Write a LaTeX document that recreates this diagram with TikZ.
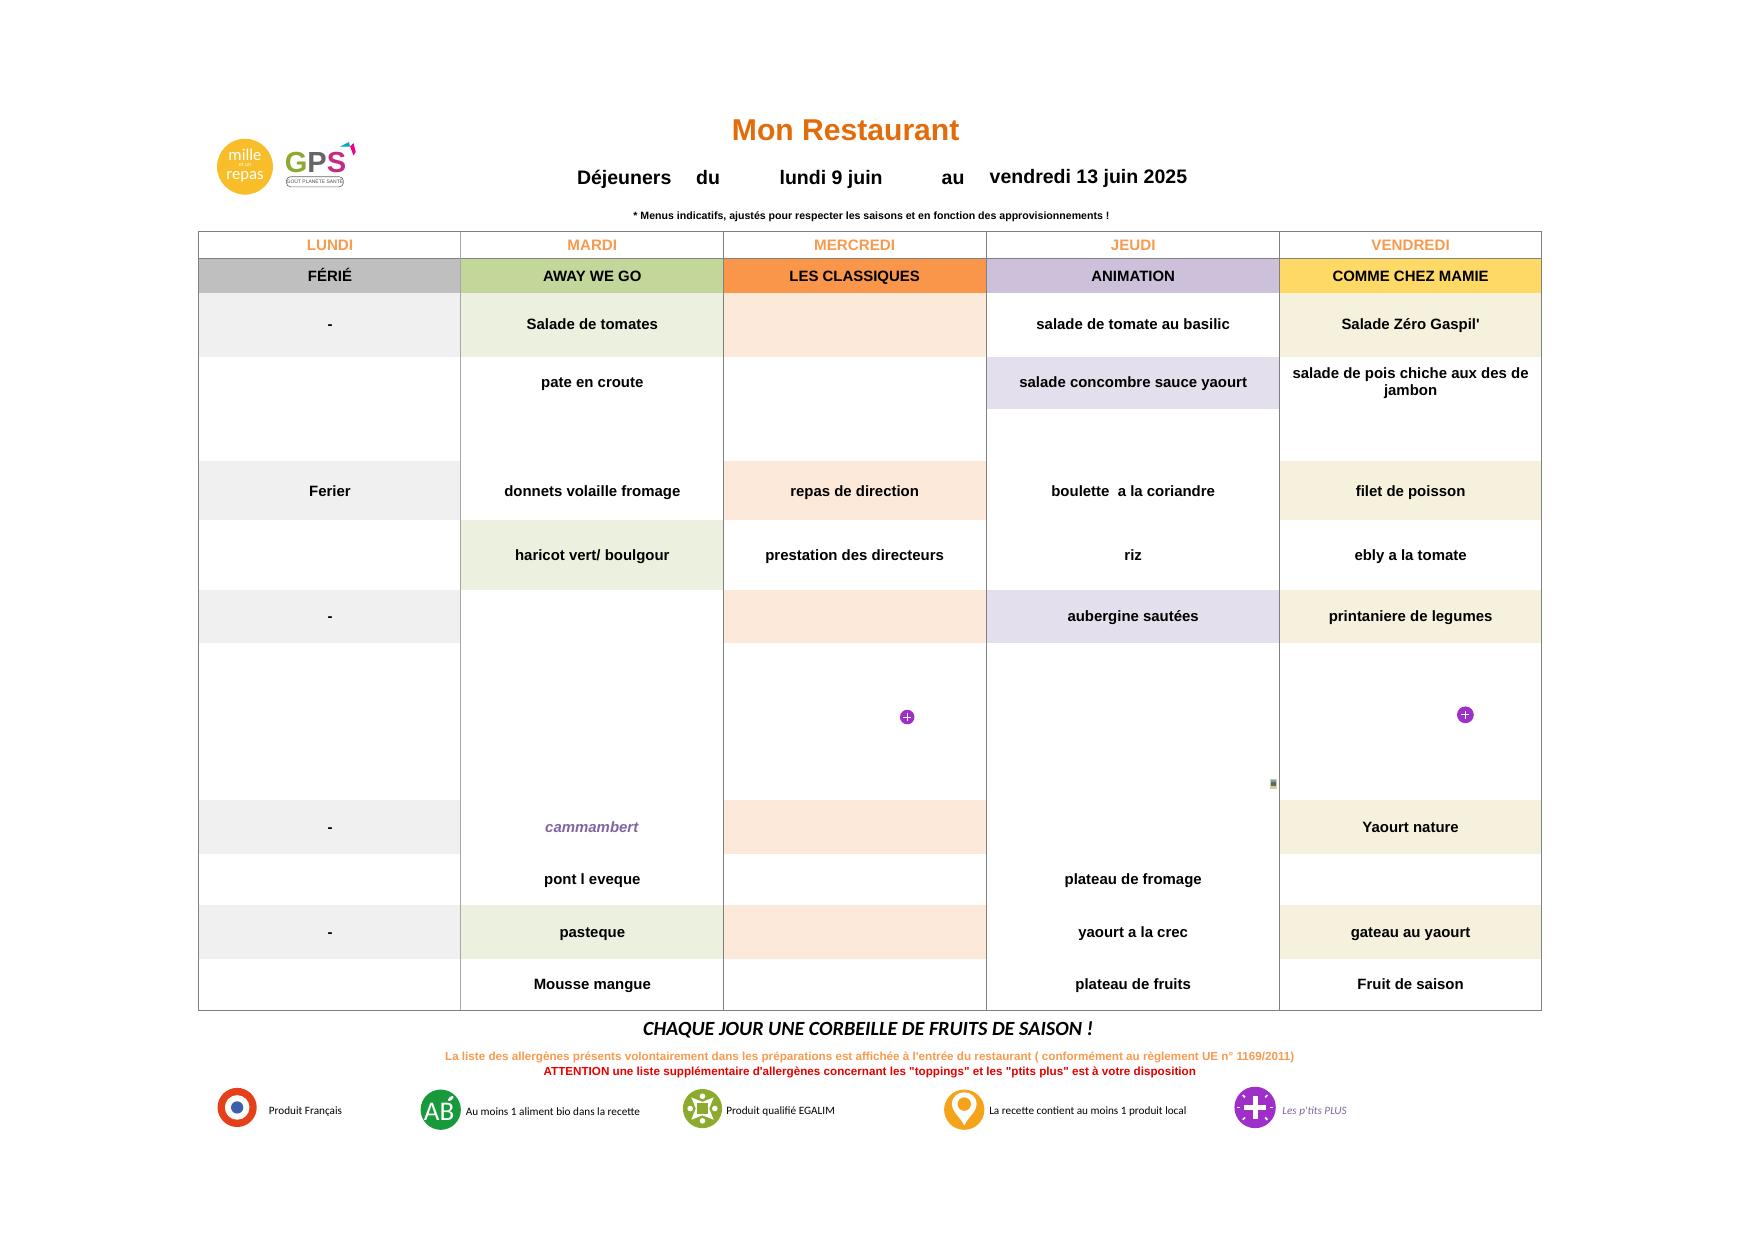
\documentclass[tikz,border=0pt]{standalone}
\usepackage{fontspec}
\setmainfont{Liberation Sans}[Ligatures=TeXOff]
\newfontfamily\carlito{Carlito}
\definecolor{daytext}{HTML}{F79A4E}
\definecolor{titletext}{HTML}{E26B0A}
\definecolor{rule}{HTML}{808080}
\definecolor{grayhead}{HTML}{BFBFBF}
\definecolor{greenhead}{HTML}{C4D79B}
\definecolor{orangehead}{HTML}{F9964A}
\definecolor{lilachead}{HTML}{CCC0DA}
\definecolor{yellowhead}{HTML}{FFD966}
\definecolor{graycell}{HTML}{F0F0F0}
\definecolor{greencell}{HTML}{EBF1DE}
\definecolor{peachcell}{HTML}{FDE9D9}
\definecolor{lilaccell}{HTML}{E4DFEC}
\definecolor{yellowcell}{HTML}{F5F1DC}
\definecolor{plusviolet}{HTML}{9E2FC8}
\definecolor{plustext}{HTML}{8064A2}
\definecolor{abgreen}{HTML}{189A3C}
\definecolor{egagreen}{HTML}{8CAB2E}
\definecolor{pinorange}{HTML}{F5A31B}
\definecolor{milleyellow}{HTML}{F7BE2A}
\definecolor{cocardered}{HTML}{E5401A}
\definecolor{cocardeblue}{HTML}{3E5FAE}
\begin{document}
\begin{tikzpicture}[x=0.018941cm,y=0.018941cm]
\tikzstyle{every node}+=[inner sep=0pt]
\tikzstyle{dayname}=[font=\fontsize{7.3}{9}\selectfont\bfseries, text=daytext, text height=1.45ex, text depth=0.25ex, yshift=0.5pt]
\tikzstyle{themename}=[font=\fontsize{7.2}{9}\selectfont\bfseries, text height=1.45ex, text depth=0.25ex, yshift=0.5pt]
\tikzstyle{dish}=[font=\fontsize{7.2}{8.4}\selectfont\bfseries, align=center, text height=1.45ex, text depth=0.25ex, yshift=0.5pt]
\tikzstyle{legendtext}=[font=\fontsize{5.4}{6.5}\selectfont\carlito, anchor=west]
\tikzstyle{subtitle}=[font=\fontsize{9.4}{11}\selectfont\bfseries, text height=1.45ex, text depth=0.25ex]
\useasboundingbox (0,0) rectangle (1568,-1108.5);
% band fills
\fill [grayhead] (177,-231) rectangle (412,-262);
\fill [greenhead] (412,-231) rectangle (647,-262);
\fill [orangehead] (647,-231) rectangle (882,-262);
\fill [lilachead] (882,-231) rectangle (1144,-262);
\fill [yellowhead] (1144,-231) rectangle (1378,-262);
\fill [graycell] (177,-262) rectangle (412,-319);
\fill [graycell] (177,-412) rectangle (412,-465);
\fill [graycell] (177,-527) rectangle (412,-575);
\fill [graycell] (177,-715) rectangle (412,-763);
\fill [graycell] (177,-809) rectangle (412,-857);
\fill [greencell] (412,-262) rectangle (647,-319);
\fill [greencell] (412,-465) rectangle (647,-527);
\fill [greencell] (412,-809) rectangle (647,-857);
\fill [peachcell] (647,-262) rectangle (882,-319);
\fill [peachcell] (647,-412) rectangle (882,-465);
\fill [peachcell] (647,-527) rectangle (882,-575);
\fill [peachcell] (647,-715) rectangle (882,-763);
\fill [peachcell] (647,-809) rectangle (882,-857);
\fill [lilaccell] (882,-319) rectangle (1144,-366);
\fill [lilaccell] (882,-527) rectangle (1144,-575);
\fill [yellowcell] (1144,-262) rectangle (1378,-319);
\fill [yellowcell] (1144,-412) rectangle (1378,-465);
\fill [yellowcell] (1144,-527) rectangle (1378,-575);
\fill [yellowcell] (1144,-715) rectangle (1378,-763);
\fill [yellowcell] (1144,-809) rectangle (1378,-857);
% table rules
\draw [rule, line width=0.4pt] (177,-207) rectangle (1378,-903);
\draw [rule, line width=0.4pt] (177,-231) -- (1378,-231);
\draw [rule!70, line width=0.4pt] (412,-207) -- (412,-903);
\draw [rule, line width=0.4pt] (647,-207) -- (647,-903);
\draw [rule, line width=0.4pt] (882,-207) -- (882,-903);
\draw [rule, line width=0.4pt] (1144,-207) -- (1144,-903);
% heading
\draw (756,-116.5) node (title) [font=\fontsize{14.5}{16}\selectfont\bfseries, text=titletext] {Mon Restaurant};
\draw (558,-159) node (dejeuners) [subtitle] {Déjeuners};
\draw (633,-159) node (du) [subtitle] {du};
\draw (743,-159) node (lundineuf) [subtitle] {lundi 9 juin};
\draw (852,-159) node (au) [subtitle] {au};
\draw (973,-158) node (vendredi13) [subtitle] {vendredi 13 juin 2025};
\draw (779,-193.5) node (indicatifs) [font=\fontsize{5.1}{6}\selectfont\bfseries] {* Menus indicatifs, ajustés pour respecter les saisons et en fonction des approvisionnements !};
% logos
\fill [milleyellow] (219,-149) circle (25);
\draw (219,-138.5) node (mille) [font=\fontsize{8}{8}\selectfont\carlito, text=white] {mille};
\draw (219,-147.5) node (etun) [font=\fontsize{2.8}{3}\selectfont\carlito, text=white] {et un};
\draw (219,-158) node (repas) [font=\fontsize{8}{8}\selectfont\carlito, text=white] {repas};
\draw (282,-145) node (gpsmark) [font=\fontsize{14}{14}\selectfont\bfseries] {\textcolor{egagreen}{G}\textcolor{black!60}{P}\textcolor{magenta!80!black}{S}};
\fill [cyan!70!green] (304,-131) -- (312,-127) -- (313,-131) -- cycle;
\fill [magenta] (313,-131) -- (316,-128) -- (318,-136) -- (316,-139) -- cycle;
\draw [black!60, line width=0.3pt, rounded corners=2] (256,-158) rectangle (307,-167);
\draw (281.5,-162.5) node (gpstag) [font=\fontsize{2.4}{3}\selectfont, text=black!70] {GOÛT PLANÈTE SANTÉ};
% day names
\draw (295,-219) node (lundi) [dayname] {LUNDI};
\draw (529.5,-219) node (mardi) [dayname] {MARDI};
\draw (764,-219) node (mercredi) [dayname] {MERCREDI};
\draw (1013,-219) node (jeudi) [dayname] {JEUDI};
\draw (1261,-219) node (vendredi) [dayname] {VENDREDI};
% themes
\draw (295,-246.5) node (ferie) [themename] {FÉRIÉ};
\draw (529.5,-246.5) node (awaywego) [themename] {AWAY WE GO};
\draw (764,-246.5) node (classiques) [themename] {LES CLASSIQUES};
\draw (1013,-246.5) node (animation) [themename] {ANIMATION};
\draw (1261,-246.5) node (mamie) [themename] {COMME CHEZ MAMIE};
% lundi
\draw (295,-290) node (lun1) [dish] {-};
\draw (295,-439) node (lun2) [dish] {Ferier};
\draw (295,-551) node (lun3) [dish] {-};
\draw (295,-739) node (lun4) [dish] {-};
\draw (295,-833) node (lun5) [dish] {-};
% mardi
\draw (529.5,-290) node (mar1) [dish] {Salade de tomates};
\draw (529.5,-341.5) node (mar2) [dish] {pate en croute};
\draw (529.5,-439) node (mar3) [dish] {donnets volaille fromage};
\draw (529.5,-496) node (mar4) [dish] {haricot vert/ boulgour};
\draw (529,-739) node (mar5) [dish, font=\fontsize{7.2}{8.4}\selectfont\bfseries\itshape, text=plustext] {cammambert};
\draw (529.5,-785.5) node (mar6) [dish] {pont l eveque};
\draw (529.5,-833) node (mar7) [dish] {pasteque};
\draw (529.5,-879.5) node (mar8) [dish] {Mousse mangue};
% mercredi
\draw (764,-439) node (mer1) [dish] {repas de direction};
\draw (764,-496) node (mer2) [dish] {prestation des directeurs};
% jeudi
\draw (1013,-290) node (jeu1) [dish] {salade de tomate au basilic};
\draw (1013,-341.5) node (jeu2) [dish] {salade concombre sauce yaourt};
\draw (1013,-439) node (jeu3) [dish] {boulette\ \ a la coriandre};
\draw (1013,-496) node (jeu4) [dish] {riz};
\draw (1013,-551) node (jeu5) [dish] {aubergine sautées};
\draw (1013,-785.5) node (jeu6) [dish] {plateau de fromage};
\draw (1013,-833) node (jeu7) [dish] {yaourt a la crec};
\draw (1013,-879.5) node (jeu8) [dish] {plateau de fruits};
% vendredi
\draw (1261,-290) node (ven1) [dish] {Salade Zéro Gaspil'};
\draw (1261,-349) node (ven2) [dish] {salade de pois chiche aux des de\\jambon};
\draw (1261,-439) node (ven3) [dish] {filet de poisson};
\draw (1261,-496) node (ven4) [dish] {ebly a la tomate};
\draw (1261,-551) node (ven5) [dish] {printaniere de legumes};
\draw (1261,-739) node (ven6) [dish] {Yaourt nature};
\draw (1261,-833) node (ven7) [dish] {gateau au yaourt};
\draw (1261,-879.5) node (ven8) [dish] {Fruit de saison};
% small marks in the table
\fill [plusviolet] (811,-641) circle (6.5);
\draw [white, line width=0.5pt] (807.5,-641) -- (814.5,-641);
\draw [white, line width=0.5pt] (811,-637.5) -- (811,-644.5);
\fill [plusviolet] (1310,-639) circle (7.5);
\draw [white, line width=0.5pt] (1306.5,-639) -- (1313.5,-639);
\draw [white, line width=0.5pt] (1310,-635.5) -- (1310,-642.5);
\fill [yellowcell!70!olive] (1135,-696) rectangle (1142,-705);
\fill [black!60] (1136.5,-699) rectangle (1141,-703);
\fill [cyan!50!gray] (1136.5,-697) rectangle (1141,-699);
% footer
\draw (776,-921) node (corbeille) [font=\fontsize{9.7}{11}\selectfont\carlito\bfseries\itshape] {CHAQUE JOUR UNE CORBEILLE DE FRUITS DE SAISON !};
\draw (777.5,-945.5) node (allergenes) [font=\fontsize{5.62}{6.5}\selectfont\bfseries, text=daytext] {La liste des allergènes présents volontairement dans les préparations est affichée à l'entrée du restaurant ( conformément au règlement UE n° 1169/2011)};
\draw (777.5,-958.5) node (attention) [font=\fontsize{5.62}{6.5}\selectfont\bfseries, text=red!90!black] {ATTENTION une liste supplémentaire d'allergènes concernant les "toppings" et les "ptits plus" est à votre disposition};
% legend
\fill [cocardered] (212,-990) circle (17.5);
\fill [white] (212,-990) circle (11);
\fill [cocardeblue] (212,-990) circle (5.5);
\draw (240,-994) node (francais) [legendtext] {Produit Français};
\fill [abgreen] (394,-992) circle (18);
\draw (392.5,-994) node (abmark) [font=\fontsize{13}{13}\selectfont\carlito, text=white] {AB};
\fill [white, rotate around={40:(403,-982)}] (403,-982) ellipse (3 and 1.5);
\draw (416,-994) node (bio) [legendtext] {Au moins 1 aliment bio dans la recette};
\fill [egagreen] (628,-991) circle (17.5);
\fill [white] (618,-981) -- (628,-985) -- (638,-981) -- (634,-991) -- (638,-1001) -- (628,-997) -- (618,-1001) -- (622,-991) -- cycle;
\fill [white] (628,-980) circle (2.5);
\fill [white] (628,-1002) circle (2.5);
\fill [white] (617,-991) circle (2.5);
\fill [white] (639,-991) circle (2.5);
\fill [egagreen] (623,-996) rectangle (633,-986);
\draw (649,-994) node (egalim) [legendtext] {Produit qualifié EGALIM};
\fill [pinorange] (862,-992) circle (18);
\fill [white] (862,-1006) .. controls (858,-998) and (851,-994) .. (851,-987) .. controls (851,-973) and (873,-973) .. (873,-987) .. controls (873,-994) and (866,-998) .. (862,-1006);
\fill [pinorange] (862,-987) circle (6);
\draw (884,-994) node (local) [legendtext] {La recette contient au moins 1 produit local};
\fill [plusviolet] (1122,-990) circle (18.5);
\draw [white, line width=2.5pt] (1112,-990) -- (1132,-990);
\draw [white, line width=2.5pt] (1122,-1000) -- (1122,-980);
\draw [white, line width=0.8pt] (1106,-990) -- (1108.5,-990);
\draw [white, line width=0.8pt] (1135.5,-990) -- (1138,-990);
\draw [white, line width=0.8pt] (1111,-979) -- (1113,-981);
\draw [white, line width=0.8pt] (1133,-979) -- (1131,-981);
\draw [white, line width=0.8pt] (1111,-1001) -- (1113,-999);
\draw [white, line width=0.8pt] (1133,-1001) -- (1131,-999);
\draw (1146,-994) node (ptitsplus) [legendtext, font=\fontsize{5.4}{6.5}\selectfont\carlito\itshape, text=plustext] {Les p'tits PLUS};
\end{tikzpicture}
\end{document}
